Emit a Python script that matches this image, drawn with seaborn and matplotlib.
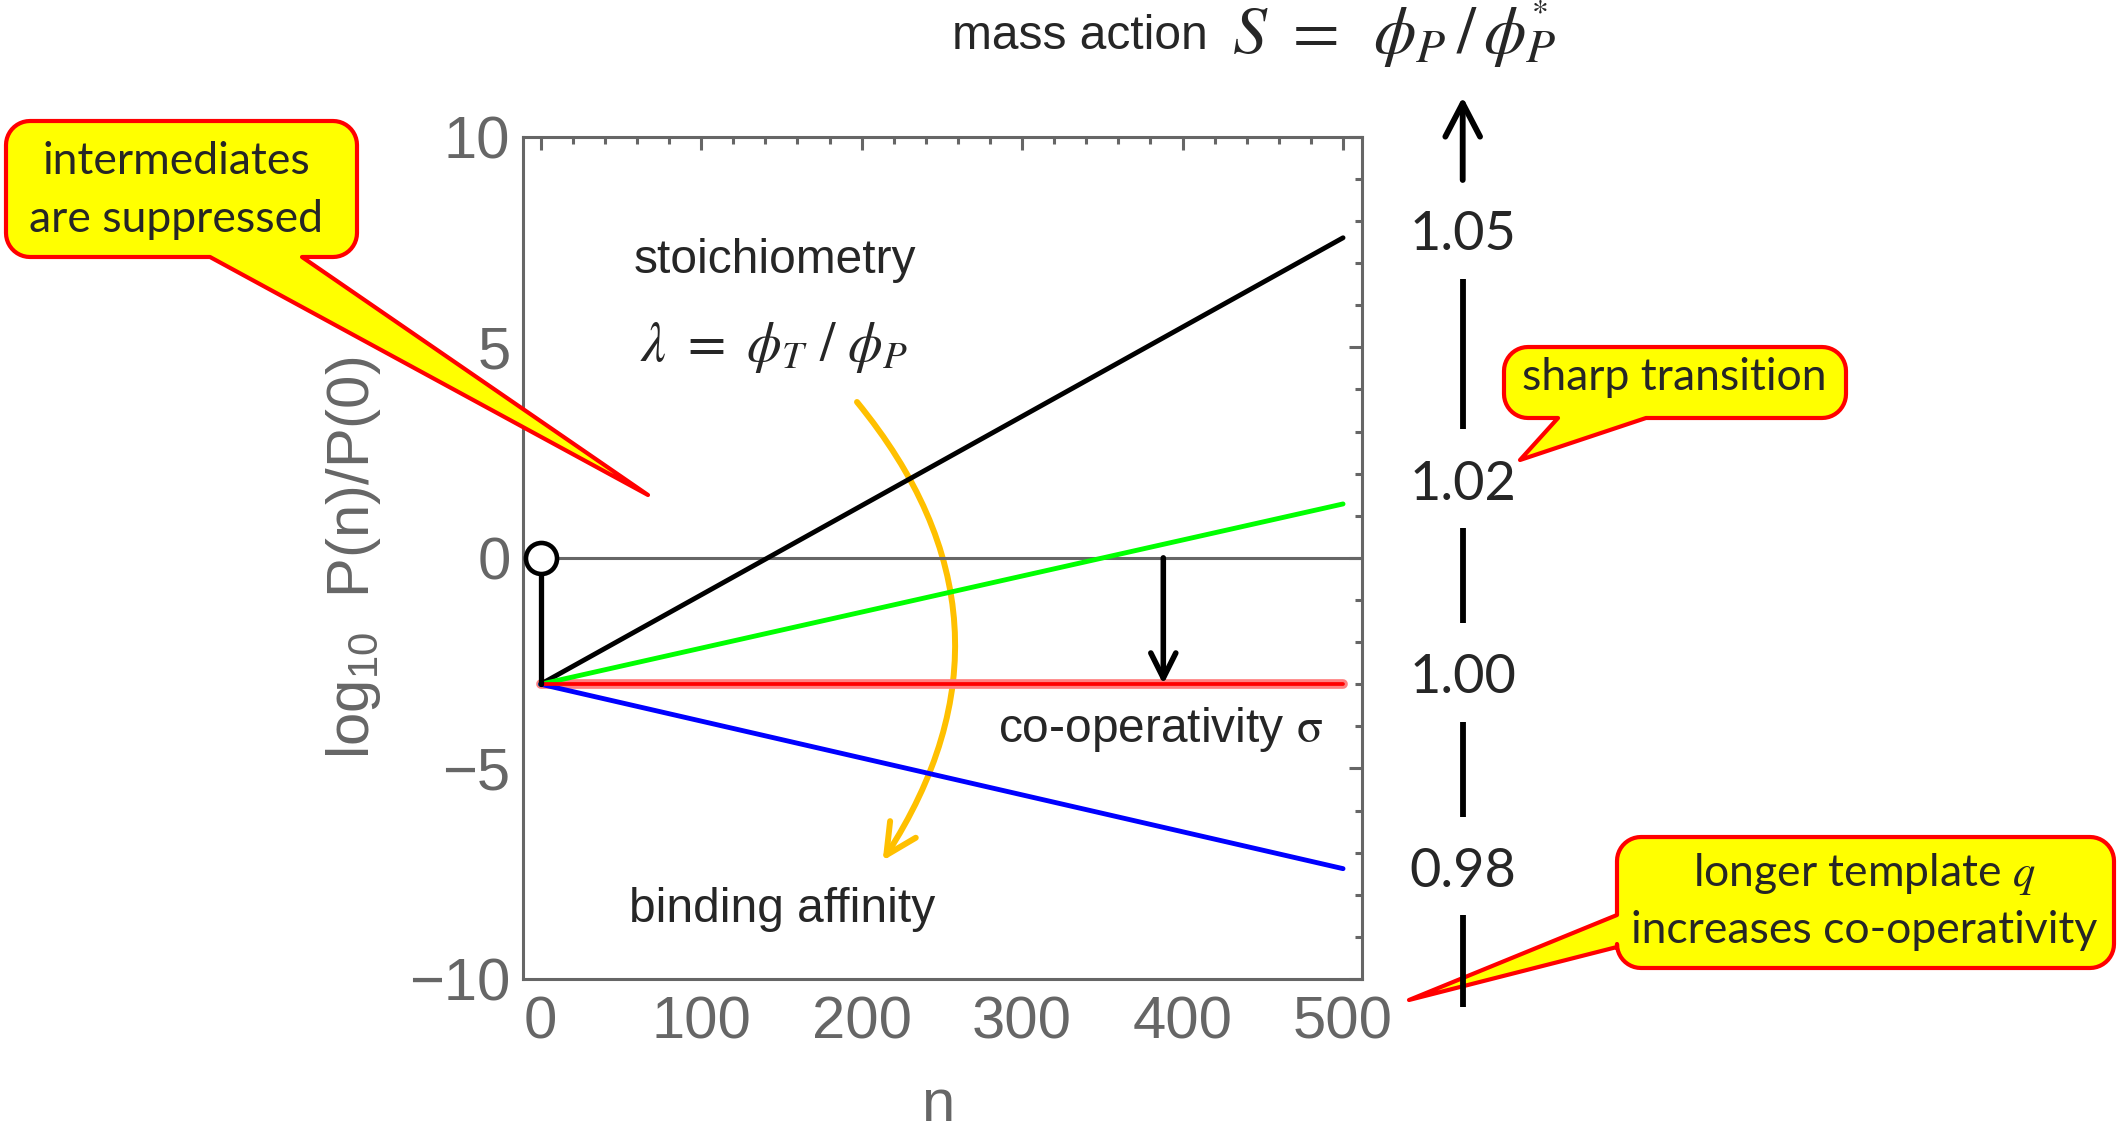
import numpy as np
import pandas as pd
import matplotlib
matplotlib.use("Agg")
import matplotlib.pyplot as plt
from matplotlib.patches import FancyArrowPatch, PathPatch
from matplotlib.path import Path
from matplotlib.ticker import MultipleLocator
import seaborn as sns

# ---- data -----------------------------------------------------------------
# chain length n and log10 P(n)/P(0) for four values of S = phi_P / phi_P*
n_chain = [0, 500]
logP_s105 = [-3.0, 7.6]
logP_s102 = [-3.0, 1.28]
logP_s100 = [-3.0, -3.0]
logP_s098 = [-3.0, -7.38]
s_labels = ["1.05", "1.02", "1.00", "0.98"]
series_colors = ["#000000", "#00ff00", "#ff0000", "#0000ff"]

# empty template (n = 0) and the drop to the first bound state
n_start = [0, 0]
logP_start = [0.0, -3.0]

x_ticks = [0, 100, 200, 300, 400, 500]
y_ticks = [-10, -5, 0, 5, 10]
n_sigma_arrow = 388

# ---- style ----------------------------------------------------------------
sns.set_theme(style="white")
plt.rcParams["font.family"] = ["Liberation Sans", "DejaVu Sans"]
plt.rcParams["mathtext.fontset"] = "stix"
plt.rcParams["axes.unicode_minus"] = True

W, H = 2126, 1131
fig = plt.figure(figsize=(W / 100, H / 100), dpi=100, facecolor="white")

FRAME = "#666666"
CALLOUT_FONT = ["Lato", "DejaVu Sans"]

# pixel-coordinate layers behind and in front of the plot
bg = fig.add_axes([0, 0, 1, 1], zorder=0)
fg = fig.add_axes([0, 0, 1, 1], zorder=5)
for a in (bg, fg):
    a.set_xlim(0, W)
    a.set_ylim(H, 0)
    a.axis("off")
    a.patch.set_alpha(0)

ax = fig.add_axes([523 / W, 1 - 979 / H, (1361.5 - 523) / W, (979 - 136.7) / H], zorder=2)
ax.set_facecolor("none")

# ---- main plot --------------------------------------------------------------
ax.axhline(0, color=FRAME, lw=2.2, zorder=1)

df = pd.DataFrame({
    "n": n_chain * 4,
    "logP": logP_s105 + logP_s102 + logP_s100 + logP_s098,
    "S": np.repeat(s_labels, len(n_chain)),
})

# soft halo under the S = 1 line
sns.lineplot(x=n_chain, y=logP_s100, color="#ff8080", lw=7, estimator=None,
             sort=False, ax=ax, zorder=2)
sns.lineplot(data=df[df.S != "1.00"], x="n", y="logP", hue="S",
             palette=dict(zip(s_labels, series_colors)), lw=3.5, estimator=None,
             sort=False, legend=False, ax=ax, zorder=3)
sns.lineplot(data=df[df.S == "1.00"], x="n", y="logP", color="#ff0000", lw=2.7,
             estimator=None, sort=False, legend=False, ax=ax, zorder=3)

sns.lineplot(x=n_start, y=logP_start, color="black", lw=3.8, estimator=None,
             sort=False, ax=ax, zorder=4)
sns.scatterplot(x=n_start[:1], y=logP_start[:1], s=500, color="white",
                edgecolor="black", linewidth=3.3, ax=ax, zorder=6)
ax.collections[-1].set_clip_on(False)

ax.add_patch(FancyArrowPatch((n_sigma_arrow, logP_start[0]), (n_sigma_arrow, logP_s100[-1]),
                             arrowstyle="->,head_length=18,head_width=9", mutation_scale=1,
                             lw=4, color="black", shrinkA=0, shrinkB=0, zorder=5))

ax.set_xlim(-11, 511.5)
ax.set_ylim(-10, 10)
ax.set_xticks(x_ticks)
ax.set_yticks(y_ticks)
ax.xaxis.set_minor_locator(MultipleLocator(20))
ax.yaxis.set_minor_locator(MultipleLocator(1))

for s in ax.spines.values():
    s.set_visible(True)
    s.set_color(FRAME)
    s.set_linewidth(2.2)
ax.tick_params(which="both", direction="in", top=True, right=True, color=FRAME, width=2.2)
ax.tick_params(which="major", length=9.5, labelsize=43, labelcolor=FRAME)
ax.tick_params(which="minor", length=5.2)
ax.tick_params(axis="y", pad=9)
ax.tick_params(axis="x", pad=12)

ax.set_xlabel("n", fontsize=43, color=FRAME)
ax.set_ylabel(r"$\mathregular{log_{10}}$  P(n)/P(0)", fontsize=43, color=FRAME)
ax.xaxis.set_label_coords(0.495, -0.118)
ax.yaxis.set_label_coords(-0.1675, 0.5)

# ---- text inside the plot -----------------------------------------------
fg.text(775, 273, "stoichiometry", fontsize=34.5, ha="center", va="baseline")
fg.text(774, 361, r"$\lambda\ =\ \phi_T\ /\ \phi_P$", fontsize=40, ha="center", va="baseline")
fg.text(782, 922, "binding affinity", fontsize=34.5, ha="center", va="baseline")
fg.text(998, 742, r"co-operativity $\mathrm{\sigma}$", fontsize=34.5, ha="left", va="baseline")

# curved arrow from stoichiometry to binding affinity
bg.add_patch(FancyArrowPatch((857, 402), (882.7, 860.7), connectionstyle="arc3,rad=-0.365",
                             arrowstyle="->,head_length=22,head_width=11", mutation_scale=1,
                             lw=4.3, color="#ffc000", capstyle="round", shrinkA=0, shrinkB=0))

# ---- mass-action axis on the right ------------------------------------------
fg.text(952, 49, "mass action", fontsize=34.5, ha="left", va="baseline")
fg.text(1232, 54, r"$S\ =\,\ \phi_P\,/\,\phi_{\overset{*}{P}}$", fontsize=49,
        ha="left", va="baseline")

col_x = 1462.7
fg.add_patch(FancyArrowPatch((col_x, 180), (col_x, 97),
                             arrowstyle="->,head_length=24,head_width=12.5", mutation_scale=1,
                             lw=4.2, color="black", shrinkA=0, shrinkB=0))
for y0, y1 in [(279, 429), (528, 623), (722, 817), (915, 1007)]:
    fg.plot([col_x, col_x], [y0, y1], color="black", lw=4.2, solid_capstyle="butt")
for lab, yb in zip(s_labels, [250, 500, 693, 887]):
    fg.text(col_x, yb, lab, fontsize=39, family=CALLOUT_FONT, ha="center", va="baseline")


# ---- callouts ----------------------------------------------------------------
def callout(axo, x0, y0, x1, y1, side, base, tip, r=24):
    def arc(cx, cy, a0, a1, k=12):
        t = np.radians(np.linspace(a0, a1, k))
        return list(zip(cx + r * np.cos(t), cy + r * np.sin(t)))

    pts = []
    pts += arc(x0 + r, y0 + r, 180, 270)
    pts += arc(x1 - r, y0 + r, 270, 360)
    pts += arc(x1 - r, y1 - r, 0, 90)
    if side == "bottom":
        pts += [(max(base), y1), tip, (min(base), y1)]
    pts += arc(x0 + r, y1 - r, 90, 180)
    if side == "left":
        pts += [(x0, max(base)), tip, (x0, min(base))]
    pts.append(pts[0])
    axo.add_patch(PathPatch(Path(pts, closed=True), fc="#ffff00", ec="#ff0000",
                            lw=3, joinstyle="round"))


callout(fg, 6, 121, 357, 257, "bottom", (210, 302), (648, 495))
fg.text(176, 174, "intermediates", fontsize=32, family=CALLOUT_FONT, ha="center", va="baseline")
fg.text(176, 232, "are suppressed", fontsize=32, family=CALLOUT_FONT, ha="center", va="baseline")

callout(fg, 1504, 347, 1846, 418, "bottom", (1558, 1646), (1520, 460))
fg.text(1674, 390, "sharp transition", fontsize=32, family=CALLOUT_FONT, ha="center", va="baseline")

callout(fg, 1617, 837, 2114, 968, "left", (915, 947), (1409, 1000))
fg.text(1864, 886, r"longer template $q$", fontsize=32, family=CALLOUT_FONT, ha="center", va="baseline")
fg.text(1864, 943, "increases co-operativity", fontsize=32, family=CALLOUT_FONT, ha="center", va="baseline")

fig.savefig("out.png", dpi=100, facecolor="white")
